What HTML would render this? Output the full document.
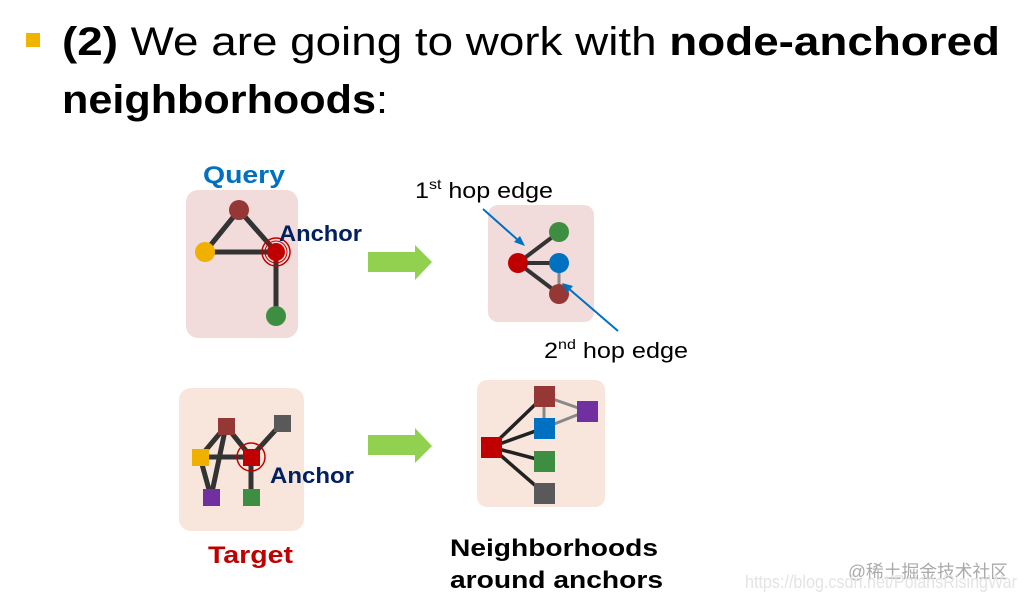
<!DOCTYPE html>
<html><head><meta charset="utf-8"><style>
html,body{margin:0;padding:0;background:#fff;}
svg{display:block;}
</style></head><body>
<svg width="1026" height="600" viewBox="0 0 1026 600" xmlns="http://www.w3.org/2000/svg" font-family="Liberation Sans, sans-serif">
<rect x="26" y="33" width="14" height="14" fill="#F0B400"/>
<text x="62" y="55" font-size="40" textLength="938" lengthAdjust="spacingAndGlyphs"><tspan font-weight="bold">(2)</tspan> We are going to work with <tspan font-weight="bold">node-anchored</tspan></text>
<text x="62" y="113" font-size="40" textLength="326" lengthAdjust="spacingAndGlyphs"><tspan font-weight="bold">neighborhoods</tspan>:</text>

<!-- Query -->
<text x="203" y="183" font-size="24" font-weight="bold" fill="#0070C0" textLength="82" lengthAdjust="spacingAndGlyphs">Query</text>
<rect x="186" y="190" width="112" height="148" rx="12" fill="#F2DCDB"/>
<g stroke="#333" stroke-width="5">
<line x1="239" y1="210" x2="205" y2="252"/><line x1="239" y1="210" x2="276" y2="252"/>
<line x1="205" y1="252" x2="276" y2="252"/><line x1="276" y1="252" x2="276" y2="316"/>
</g>
<circle cx="239" cy="210" r="10" fill="#953735"/>
<circle cx="205" cy="252" r="10" fill="#F0B000"/>
<circle cx="276" cy="252" r="14" fill="none" stroke="#C00000" stroke-width="1.5"/>
<circle cx="276" cy="252" r="11" fill="none" stroke="#C00000" stroke-width="1"/>
<circle cx="276" cy="252" r="9" fill="#C00000"/>
<circle cx="276" cy="316" r="10" fill="#3E8E41"/>
<text x="279" y="241" font-size="22" font-weight="bold" fill="#002060" textLength="83" lengthAdjust="spacingAndGlyphs">Anchor</text>

<polygon points="368,252 415,252 415,245 432,262 415,280 415,272 368,272" fill="#92D050"/>

<rect x="488" y="205" width="106" height="117" rx="10" fill="#F2DCDB"/>
<g stroke="#333" stroke-width="4">
<line x1="518" y1="263" x2="559" y2="232"/><line x1="518" y1="263" x2="559" y2="263"/><line x1="518" y1="263" x2="559" y2="294"/>
</g>
<line x1="559" y1="263" x2="559" y2="294" stroke="#888" stroke-width="3"/>
<circle cx="518" cy="263" r="10" fill="#C00000"/>
<circle cx="559" cy="232" r="10" fill="#3E8E41"/>
<circle cx="559" cy="263" r="10" fill="#0070C0"/>
<circle cx="559" cy="294" r="10" fill="#953735"/>
<text x="415" y="198" font-size="22" textLength="138" lengthAdjust="spacingAndGlyphs">1<tspan font-size="14" dy="-9">st</tspan><tspan dy="9"> hop edge</tspan></text>
<line x1="483" y1="209" x2="519" y2="241" stroke="#0070C0" stroke-width="2"/>
<polygon points="525,246 514,242 520,236" fill="#0070C0"/>
<line x1="618" y1="331" x2="568" y2="288" stroke="#0070C0" stroke-width="2"/>
<polygon points="562,283 573,286 567,293" fill="#0070C0"/>
<text x="544" y="358" font-size="22" textLength="144" lengthAdjust="spacingAndGlyphs">2<tspan font-size="14" dy="-9">nd</tspan><tspan dy="9"> hop edge</tspan></text>

<!-- Target -->
<rect x="179" y="388" width="125" height="143" rx="12" fill="#F8E6DC"/>
<g stroke="#333" stroke-width="5">
<line x1="226" y1="426" x2="200" y2="457"/><line x1="226" y1="426" x2="211" y2="497"/>
<line x1="200" y1="457" x2="211" y2="497"/><line x1="226" y1="426" x2="251" y2="457"/>
<line x1="200" y1="457" x2="251" y2="457"/><line x1="251" y1="457" x2="282" y2="423"/>
<line x1="251" y1="457" x2="251" y2="497"/>
</g>
<rect x="218" y="418" width="17" height="17" fill="#953735"/>
<rect x="274" y="415" width="17" height="17" fill="#595959"/>
<rect x="192" y="449" width="17" height="17" fill="#F0B000"/>
<rect x="243" y="449" width="17" height="17" fill="#C00000"/>
<circle cx="251" cy="457" r="14" fill="none" stroke="#C00000" stroke-width="1.5"/>
<rect x="203" y="489" width="17" height="17" fill="#7030A0"/>
<rect x="243" y="489" width="17" height="17" fill="#3E8E41"/>
<text x="270" y="483" font-size="22" font-weight="bold" fill="#002060" textLength="84" lengthAdjust="spacingAndGlyphs">Anchor</text>
<text x="208" y="563" font-size="24" font-weight="bold" fill="#C00000" textLength="85" lengthAdjust="spacingAndGlyphs">Target</text>

<polygon points="368,435 415,435 415,428 432,446 415,463 415,455 368,455" fill="#92D050"/>

<rect x="477" y="380" width="128" height="127" rx="10" fill="#F8E6DC"/>
<g stroke="#888" stroke-width="3">
<line x1="544" y1="396" x2="544" y2="428"/><line x1="544" y1="396" x2="587" y2="411"/><line x1="544" y1="428" x2="587" y2="411"/>
</g>
<g stroke="#222" stroke-width="3.5">
<line x1="491" y1="447" x2="544" y2="396"/><line x1="491" y1="447" x2="544" y2="428"/>
<line x1="491" y1="447" x2="544" y2="461"/><line x1="491" y1="447" x2="544" y2="493"/>
</g>
<rect x="481" y="437" width="21" height="21" fill="#C00000"/>
<rect x="534" y="386" width="21" height="21" fill="#953735"/>
<rect x="534" y="418" width="21" height="21" fill="#0070C0"/>
<rect x="534" y="451" width="21" height="21" fill="#3E8E41"/>
<rect x="534" y="483" width="21" height="21" fill="#595959"/>
<rect x="577" y="401" width="21" height="21" fill="#7030A0"/>
<text x="450" y="556" font-size="24" font-weight="bold" textLength="208" lengthAdjust="spacingAndGlyphs">Neighborhoods</text>
<text x="450" y="588" font-size="24" font-weight="bold" textLength="213" lengthAdjust="spacingAndGlyphs">around anchors</text>

<text x="848" y="578" font-size="18" fill="#aaa" font-family="Liberation Sans, Noto Sans CJK SC, sans-serif" textLength="160" lengthAdjust="spacingAndGlyphs">@稀土掘金技术社区</text>
<text x="745" y="588" font-size="18" fill="#e4e4e4" textLength="272" lengthAdjust="spacingAndGlyphs">https://blog.csdn.net/PolarisRisingWar</text>
</svg>
</body></html>
